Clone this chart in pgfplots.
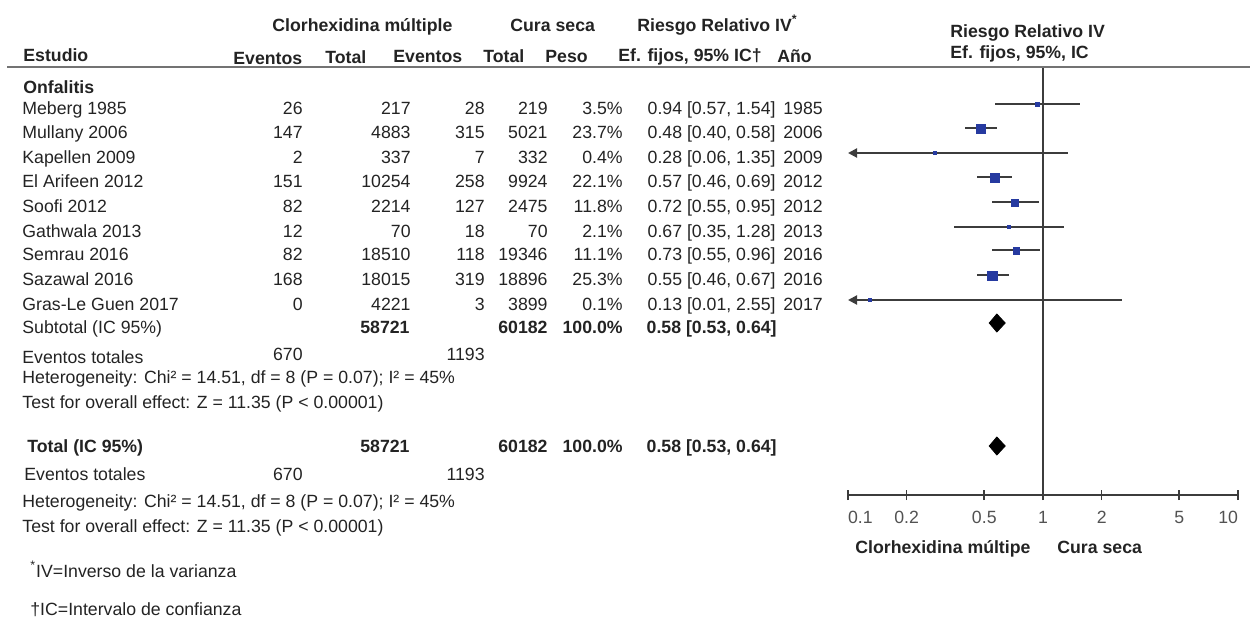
\documentclass[border=0pt]{standalone}
\usepackage{pgfplots}
\pgfplotsset{compat=1.18}
\usepackage{fontspec}
\setmainfont{Liberation Sans}
\usetikzlibrary{arrows.meta}
\definecolor{sqblue}{RGB}{38,58,160}
\definecolor{txt}{RGB}{35,35,35}
\definecolor{ln}{RGB}{60,60,60}
\newcommand\tl[3]{\node[anchor=base west] at (#1,#2) {#3};}
\newcommand\tr[3]{\node[anchor=base east] at (#1,#2) {#3};}
\newcommand\row[9]{\tl{22}{#1}{#2}\tr{303}{#1}{#3}\tr{411}{#1}{#4}\tr{485}{#1}{#5}\tr{548}{#1}{#6}\tr{623}{#1}{#7}\tr{776}{#1}{#8}\tl{783}{#1}{#9}}
\begin{document}
\begin{tikzpicture}[every node/.style={font=\fontsize{8.85}{10}\selectfont, text=txt, inner sep=0pt}]
\useasboundingbox (0,0) rectangle (625pt,-308.5pt);
\begin{axis}[
  at={(424pt,-247.5pt)}, anchor=south west,
  scale only axis, width=195pt, height=214pt,
  xmode=log, xmin=0.1, xmax=10, ymin=-495, ymax=-67,
  enlargelimits=false,
  axis x line*=bottom, axis y line=none,
  x axis line style={-, line width=0.8pt, draw=ln},
  xtick={0.1,0.2,0.5,1,2,5,10},
  xticklabels={\makebox[0pt][l]{0.1},0.2,0.5,1,2,5,\makebox[0pt][r]{10}},
  minor xtick={},
  major tick length=5pt, tick align=center,
  xtick style={line width=0.8pt, draw=ln},
  xticklabel style={anchor=base, yshift=-11.5pt, text=black!68},
  clip=false,
]
% line of no effect
\addplot[ln, line width=0.75pt] coordinates {(1,-67) (1,-495)};
% confidence intervals
\addplot[ln, line width=1pt] coordinates {(0.57,-104) (1.54,-104)};
\addplot[ln, line width=1pt] coordinates {(0.40,-128) (0.58,-128)};
\addplot[ln, line width=1pt, {Triangle[length=4.5pt,width=4.5pt]}-] coordinates {(0.1,-153) (1.35,-153)};
\addplot[ln, line width=1pt] coordinates {(0.46,-177) (0.69,-177)};
\addplot[ln, line width=1pt] coordinates {(0.55,-202) (0.95,-202)};
\addplot[ln, line width=1pt] coordinates {(0.35,-227) (1.28,-227)};
\addplot[ln, line width=1pt] coordinates {(0.55,-250) (0.96,-250)};
\addplot[ln, line width=1pt] coordinates {(0.46,-275) (0.67,-275)};
\addplot[ln, line width=1pt, {Triangle[length=4.5pt,width=4.5pt]}-] coordinates {(0.1,-300) (2.55,-300)};
% point estimates (squares sized by weight)
\addplot[only marks, mark=square*, mark size=1.0pt, sqblue, mark options={line width=0pt}] coordinates {(0.94,-104)};
\addplot[only marks, mark=square*, mark size=2.3pt, sqblue, mark options={line width=0pt}] coordinates {(0.48,-129)};
\addplot[only marks, mark=square*, mark size=0.75pt, sqblue, mark options={line width=0pt}] coordinates {(0.28,-153)};
\addplot[only marks, mark=square*, mark size=2.2pt, sqblue, mark options={line width=0pt}] coordinates {(0.57,-178)};
\addplot[only marks, mark=square*, mark size=1.65pt, sqblue, mark options={line width=0pt}] coordinates {(0.72,-203)};
\addplot[only marks, mark=square*, mark size=0.9pt, sqblue, mark options={line width=0pt}] coordinates {(0.67,-227)};
\addplot[only marks, mark=square*, mark size=1.6pt, sqblue, mark options={line width=0pt}] coordinates {(0.73,-251)};
\addplot[only marks, mark=square*, mark size=2.4pt, sqblue, mark options={line width=0pt}] coordinates {(0.55,-276)};
\addplot[only marks, mark=square*, mark size=0.7pt, sqblue, mark options={line width=0pt}] coordinates {(0.13,-300)};
% pooled estimates
\addplot[draw=black, fill=black] coordinates {(0.53,-323) (0.58,-314) (0.64,-323) (0.58,-332)} -- cycle;
\addplot[draw=black, fill=black] coordinates {(0.53,-446) (0.58,-437) (0.64,-446) (0.58,-455)} -- cycle;
\end{axis}
\begin{scope}[x=0.5pt,y=-0.5pt]
\draw[line width=1.3pt, black!55] (7,67) -- (1250,67);
% headers
\tl{272}{31}{\bfseries Clorhexidina múltiple}
\tl{510}{31}{\bfseries Cura seca}
\tl{637}{31}{\bfseries Riesgo Relativo IV\textsuperscript{*}}
\tl{23}{61}{\bfseries Estudio}
\tl{233}{64}{\bfseries Eventos}
\tl{325}{63}{\bfseries Total}
\tl{393}{62}{\bfseries Eventos}
\tl{483}{62}{\bfseries Total}
\tl{545}{62}{\bfseries Peso}
\tl{618}{61}{\bfseries Ef. fijos, 95\% IC†}
\tl{777}{62}{\bfseries Año}
\tl{950}{37}{\bfseries Riesgo Relativo IV}
\tl{950}{58}{\bfseries Ef. fijos, 95\%, IC}
\tl{23}{93}{\bfseries Onfalitis}
% studies
\row{114}{Meberg 1985}{26}{217}{28}{219}{3.5\%}{0.94 [0.57, 1.54]}{1985}
\row{138}{Mullany 2006}{147}{4883}{315}{5021}{23.7\%}{0.48 [0.40, 0.58]}{2006}
\row{163}{Kapellen 2009}{2}{337}{7}{332}{0.4\%}{0.28 [0.06, 1.35]}{2009}
\row{187}{El Arifeen 2012}{151}{10254}{258}{9924}{22.1\%}{0.57 [0.46, 0.69]}{2012}
\row{212}{Soofi 2012}{82}{2214}{127}{2475}{11.8\%}{0.72 [0.55, 0.95]}{2012}
\row{237}{Gathwala 2013}{12}{70}{18}{70}{2.1\%}{0.67 [0.35, 1.28]}{2013}
\row{260}{Semrau 2016}{82}{18510}{118}{19346}{11.1\%}{0.73 [0.55, 0.96]}{2016}
\row{285}{Sazawal 2016}{168}{18015}{319}{18896}{25.3\%}{0.55 [0.46, 0.67]}{2016}
\row{310}{Gras-Le Guen 2017}{0}{4221}{3}{3899}{0.1\%}{0.13 [0.01, 2.55]}{2017}
% subtotal
\tl{22}{333}{Subtotal (IC 95\%)}
\tr{410}{333}{\bfseries 58721}
\tr{548}{333}{\bfseries 60182}
\tr{623}{333}{\bfseries 100.0\%}
\tr{777}{333}{\bfseries 0.58 [0.53, 0.64]}
\tl{22}{363}{Eventos totales}
\tr{303}{360}{670}
\tr{485}{360}{1193}
\tl{22}{383}{Heterogeneity: Chi² = 14.51, df = 8 (P = 0.07); I² = 45\%}
\tl{22}{408}{Test for overall effect: Z = 11.35 (P < 0.00001)}
% total
\tl{27}{452}{\bfseries Total (IC 95\%)}
\tr{410}{452}{\bfseries 58721}
\tr{548}{452}{\bfseries 60182}
\tr{623}{452}{\bfseries 100.0\%}
\tr{777}{452}{\bfseries 0.58 [0.53, 0.64]}
\tl{24}{480}{Eventos totales}
\tr{303}{480}{670}
\tr{485}{480}{1193}
\tl{22}{507}{Heterogeneity: Chi² = 14.51, df = 8 (P = 0.07); I² = 45\%}
\tl{22}{532}{Test for overall effect: Z = 11.35 (P < 0.00001)}
% footnotes
\tl{30}{577}{\textsuperscript{*}IV=Inverso de la varianza}
\tl{30}{615}{†IC=Intervalo de confianza}
% forest axis captions
\tl{855}{553}{\bfseries Clorhexidina múltipe}
\tl{1057}{553}{\bfseries Cura seca}
\end{scope}
\end{tikzpicture}
\end{document}
